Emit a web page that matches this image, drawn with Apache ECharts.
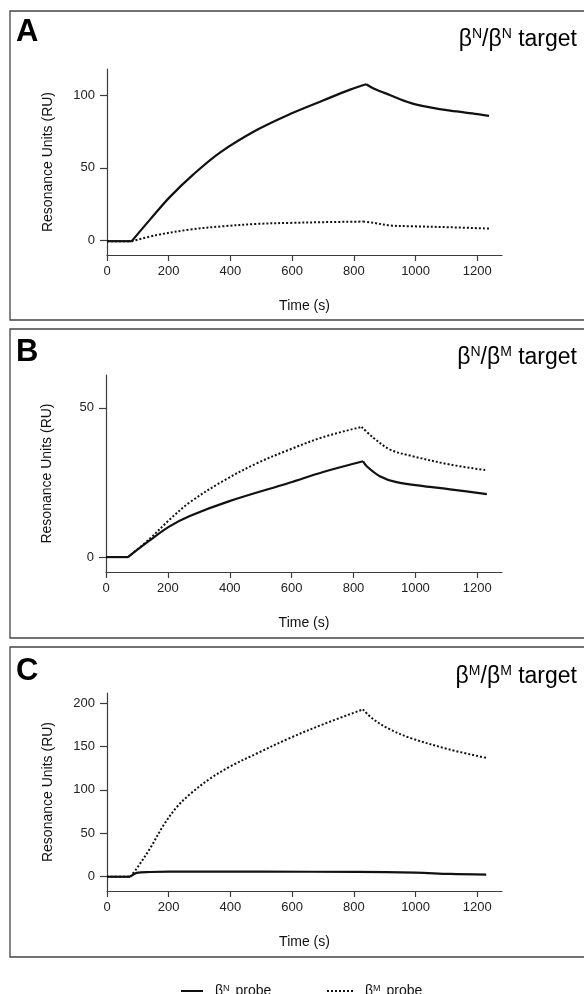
<!DOCTYPE html>
<html>
<head>
<meta charset="utf-8">
<script src="https://cdn.jsdelivr.net/npm/echarts@6/dist/echarts.min.js"></script>
<style>
  html, body { margin: 0; padding: 0; background: #fff; }
  #chart { width: 584px; height: 994px; }
</style>
</head>
<body>
<div id="chart"></div>
<script>
// tick values
const xTicks = [0, 200, 400, 600, 800, 1000, 1200];
const yTicksA = [0, 50, 100];
const yTicksB = [0, 50];
const yTicksC = [0, 50, 100, 150, 200];

const panelLetters = ['A', 'B', 'C'];
const panelTargets = ['β{s|N}/β{s|N} target', 'β{s|N}/β{s|M} target', 'β{s|M}/β{s|M} target'];
const probeNames = ['βN probe', 'βM probe'];

// [time (s), RU], split into baseline / association / dissociation
const aNProbe = [
  [[0, -0.5], [80, -0.5]],
  [[80, -0.5], [140, 14.5], [204, 30], [280, 45.5], [366, 60.5], [485, 76], [593, 87], [702, 96.5], [788, 103.8], [840, 107.5]],
  [[840, 107.5], [864, 104.6], [918, 100], [983, 94.7], [1047, 91.6], [1112, 89.3], [1200, 87], [1238, 85.8]]
];
const aMProbe = [
  [[0, -0.5], [80, -0.5]],
  [[80, -0.5], [161, 3.7], [269, 7.5], [377, 9.8], [485, 11.4], [593, 12.1], [702, 12.6], [830, 13]],
  [[830, 13], [864, 12.1], [918, 10.3], [983, 9.8], [1112, 9.1], [1238, 8.2]]
];

const bNProbe = [
  [[0, 0], [71, 0]],
  [[71, 0], [139, 5.4], [204, 10.2], [269, 13.7], [399, 18.75], [593, 24.9], [702, 28.5], [831, 32.1]],
  [[831, 32.1], [842, 30.5], [885, 27.1], [939, 25.1], [1026, 23.8], [1112, 22.7], [1231, 21.1]]
];
const bMProbe = [
  [[0, 0], [71, 0]],
  [[71, 0], [139, 5.9], [204, 12.4], [269, 18.2], [377, 25.4], [485, 31.3], [593, 36], [702, 40.2], [826, 43.6]],
  [[826, 43.6], [864, 40], [918, 36], [983, 34], [1112, 31], [1229, 29.1]]
];

const cNProbe = [
  [[0, -0.5], [75, -0.5]],
  [[75, -0.5], [96, 3.9], [139, 5], [200, 5.4], [500, 5.3], [810, 5.2], [1000, 4.3], [1112, 2.7], [1229, 2]]
];
const cMProbe = [
  [[0, -0.5], [75, -0.5]],
  [[75, -0.5], [96, 8.9], [139, 32], [183, 59], [226, 80], [269, 95], [334, 113], [399, 127], [485, 142],
    [593, 160], [702, 176], [829, 193]],
  [[829, 193], [864, 181.4], [918, 169.8], [983, 160], [1112, 146.5], [1229, 137]]
];

const font = '"Liberation Sans", Arial, sans-serif';
const ink = '#111';
const axisInk = '#3c3c3c';

const grids = [
  {left: 107, top: 69, width: 395, height: 186},
  {left: 106, top: 375, width: 396, height: 197},
  {left: 107, top: 693, width: 395, height: 198}
];
const yRanges = [[-10, 118, yTicksA], [-5, 61, yTicksB], [-17, 212, yTicksC]];
const boxes = [[11, 309], [329, 309], [647, 310]];
const letterY = [32, 352, 671];
const targetY = [40, 358, 677];

function xAxis(i) {
  return {
    gridIndex: i, type: 'value', min: 0, max: 1280,
    name: 'Time (s)', nameLocation: 'middle', nameGap: 44,
    nameTextStyle: {fontFamily: font, fontSize: 14, color: ink},
    axisLine: {onZero: false, lineStyle: {color: axisInk, width: 1.2}},
    axisTick: {length: 6, customValues: xTicks, lineStyle: {color: axisInk, width: 1.2}},
    axisLabel: {customValues: xTicks, fontFamily: font, fontSize: 13, color: '#222', margin: 10,
      formatter: v => String(v)},
    splitLine: {show: false}
  };
}

function yAxis(i) {
  const [min, max, ticks] = yRanges[i];
  return {
    gridIndex: i, type: 'value', min: min, max: max,
    name: 'Resonance Units (RU)', nameLocation: 'middle', nameGap: 52,
    nameTextStyle: {fontFamily: font, fontSize: 14, color: ink},
    axisLine: {show: true, onZero: false, lineStyle: {color: axisInk, width: 1.2}},
    axisTick: {show: true, length: 7, customValues: ticks, lineStyle: {color: axisInk, width: 1.2}},
    axisLabel: {customValues: ticks, fontFamily: font, fontSize: 13, color: '#222', margin: 12,
      formatter: v => String(v)},
    splitLine: {show: false}
  };
}

// one series per phase so the corners stay sharp while each phase is smoothed
function curve(name, i, segments, dotted) {
  return segments.map(seg => ({
    name: name, type: 'line', xAxisIndex: i, yAxisIndex: i, data: seg,
    symbol: 'none', silent: true, smooth: 0.35,
    lineStyle: {color: ink, width: dotted ? 2 : 2.2, type: dotted ? [2, 2] : 'solid'},
    itemStyle: {color: ink}
  }));
}

const graphic = [];
boxes.forEach(([top, h], i) => {
  graphic.push({
    type: 'rect', shape: {x: 10, y: top, width: 600, height: h},
    style: {fill: 'none', stroke: '#444', lineWidth: 1.3}
  });
  graphic.push({
    type: 'text', x: 16, y: letterY[i],
    style: {text: panelLetters[i], font: 'bold 31px ' + font, fill: '#000', verticalAlign: 'middle'}
  });
  graphic.push({
    type: 'text', x: 577, y: targetY[i],
    style: {
      text: panelTargets[i], fontFamily: font, fontSize: 23, fill: '#000',
      align: 'right', verticalAlign: 'middle', lineHeight: 25,
      rich: {s: {fontFamily: font, fontSize: 14, lineHeight: 15, verticalAlign: 'top', fill: '#000'}}
    }
  });
});

const legendText = {
  fontFamily: font, fontSize: 14, color: ink, padding: [0, 0, 0, 7],
  rich: {s: {fontFamily: font, fontSize: 9, verticalAlign: 'top', lineHeight: 10, padding: [0, 2, 0, 0]}}
};
const legendFmt = name => name === probeNames[0] ? 'β{s|N} probe' : 'β{s|M} probe';
const hiddenSymbol = {color: 'rgba(0,0,0,0)', borderWidth: 0, opacity: 0};

const chart = echarts.init(document.getElementById('chart'));
chart.setOption({
  animation: false,
  backgroundColor: '#fff',
  textStyle: {fontFamily: font},
  grid: grids,
  xAxis: [0, 1, 2].map(xAxis),
  yAxis: [0, 1, 2].map(yAxis),
  legend: [
    {data: [probeNames[0]], left: 175, top: 979, itemWidth: 22, itemHeight: 14, itemStyle: hiddenSymbol,
      textStyle: legendText, formatter: legendFmt, selectedMode: false},
    {data: [probeNames[1]], left: 321, top: 979, itemWidth: 26, itemHeight: 14, itemStyle: hiddenSymbol,
      textStyle: legendText, formatter: legendFmt, selectedMode: false}
  ],
  graphic: graphic,
  series: [].concat(
    curve(probeNames[0], 0, aNProbe, false),
    curve(probeNames[1], 0, aMProbe, true),
    curve(probeNames[0], 1, bNProbe, false),
    curve(probeNames[1], 1, bMProbe, true),
    curve(probeNames[0], 2, cNProbe, false),
    curve(probeNames[1], 2, cMProbe, true)
  )
});
</script>
</body>
</html>
